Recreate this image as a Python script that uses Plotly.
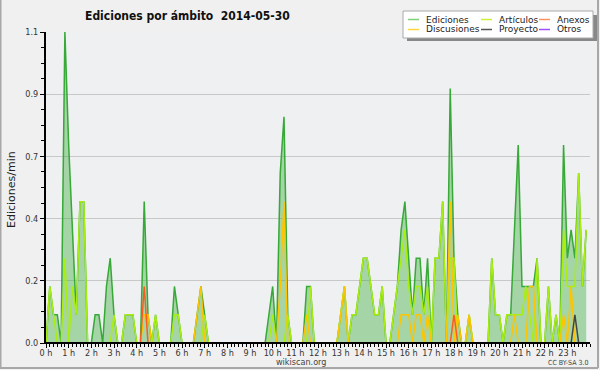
import plotly.graph_objects as go
import pandas as pd

DATE = "2014-05-30"
TITLE = "Ediciones por ámbito\u00a0 2014-05-30"
HOUR_LABELS = [f"{h} h" for h in range(24)]
Y_TICKS = [0, 0.22, 0.44, 0.66, 0.88, 1.1]
Y_TICK_LABELS = ["0.0", "0.2", "0.4", "0.7", "0.9", "1.1"]

# Ediciones/min per 10-minute bin (one row per hour)
EDICIONES = [
    0, 0.2, 0.1, 0.1, 0, 1.1,
    0.7, 0.4, 0.1, 0.5, 0.5, 0,
    0, 0.1, 0.1, 0, 0.2, 0.3,
    0.1, 0, 0, 0.1, 0.1, 0.1,
    0, 0, 0.5, 0.1, 0, 0.1,
    0, 0, 0, 0, 0.2, 0.1,
    0, 0, 0, 0, 0.1, 0.2,
    0.1, 0, 0, 0, 0, 0,
    0, 0, 0, 0, 0, 0,
    0, 0, 0, 0, 0, 0.1,
    0.2, 0, 0.6, 0.8, 0.1, 0,
    0, 0, 0, 0.2, 0.2, 0,
    0, 0, 0, 0, 0, 0,
    0.1, 0.2, 0, 0.1, 0.1, 0.2,
    0.3, 0.3, 0.2, 0.1, 0.1, 0.2,
    0, 0, 0.1, 0.2, 0.4, 0.5,
    0.3, 0.1, 0.3, 0.3, 0.1, 0.3,
    0, 0.3, 0.3, 0.5, 0, 0.9,
    0.3, 0.1, 0, 0, 0.1, 0,
    0, 0, 0, 0, 0.3, 0.1,
    0.1, 0, 0.1, 0.1, 0.4, 0.7,
    0.2, 0.2, 0.2, 0.2, 0.3, 0,
    0, 0.2, 0, 0.1, 0, 0.7,
    0.3, 0.4, 0.3, 0.6, 0.2, 0.4,
]
ARTICULOS = [
    0, 0.2, 0.1, 0, 0, 0.3,
    0, 0.2, 0.1, 0.5, 0.5, 0,
    0, 0, 0, 0, 0, 0,
    0.1, 0, 0, 0.1, 0.1, 0.1,
    0, 0, 0, 0, 0, 0.1,
    0, 0, 0, 0, 0.1, 0.1,
    0, 0, 0, 0, 0, 0,
    0.1, 0, 0, 0, 0, 0,
    0, 0, 0, 0, 0, 0,
    0, 0, 0, 0, 0, 0,
    0.1, 0, 0, 0, 0.1, 0,
    0, 0, 0, 0, 0.2, 0,
    0, 0, 0, 0, 0, 0,
    0.1, 0.2, 0, 0.1, 0.1, 0.2,
    0.3, 0.3, 0.2, 0.1, 0.1, 0.2,
    0, 0, 0.1, 0.2, 0.3, 0.4,
    0.2, 0.1, 0.2, 0.2, 0.1, 0.2,
    0, 0.3, 0.3, 0.5, 0, 0.3,
    0.3, 0, 0, 0, 0.1, 0,
    0, 0, 0, 0, 0.3, 0.1,
    0.1, 0, 0.1, 0.1, 0.1, 0.1,
    0.1, 0.2, 0.1, 0, 0.3, 0,
    0, 0.2, 0, 0.1, 0, 0.4,
    0.2, 0.2, 0.2, 0.6, 0.2, 0.4,
]
DISCUSIONES = [
    0, 0, 0, 0, 0, 0,
    0, 0, 0, 0, 0, 0,
    0, 0, 0, 0, 0, 0,
    0, 0, 0, 0, 0, 0,
    0, 0, 0.1, 0.1, 0, 0,
    0, 0, 0, 0, 0, 0,
    0, 0, 0, 0, 0.1, 0.2,
    0, 0, 0, 0, 0, 0,
    0, 0, 0, 0, 0, 0,
    0, 0, 0, 0, 0, 0,
    0, 0, 0.2, 0.5, 0, 0,
    0, 0, 0, 0.1, 0, 0,
    0, 0, 0, 0, 0, 0,
    0.1, 0.2, 0, 0, 0, 0,
    0, 0, 0, 0, 0, 0,
    0, 0, 0, 0, 0.1, 0.1,
    0.1, 0, 0.1, 0.1, 0, 0.1,
    0, 0, 0, 0, 0, 0.5,
    0, 0.1, 0, 0, 0.1, 0,
    0, 0, 0, 0, 0, 0,
    0, 0, 0, 0, 0.1, 0,
    0, 0, 0.2, 0.2, 0, 0,
    0, 0, 0, 0, 0, 0.1,
    0, 0.2, 0, 0, 0, 0,
]
ANEXOS = [
    0, 0, 0, 0, 0, 0,
    0, 0, 0, 0, 0, 0,
    0, 0, 0, 0, 0, 0,
    0, 0, 0, 0, 0, 0,
    0, 0, 0.2, 0, 0, 0,
    0, 0, 0, 0, 0, 0,
    0, 0, 0, 0, 0, 0,
    0, 0, 0, 0, 0, 0,
    0, 0, 0, 0, 0, 0,
    0, 0, 0, 0, 0, 0,
    0, 0, 0, 0, 0, 0,
    0, 0, 0, 0, 0, 0,
    0, 0, 0, 0, 0, 0,
    0, 0, 0, 0, 0, 0,
    0, 0, 0, 0, 0, 0,
    0, 0, 0, 0, 0, 0,
    0, 0, 0, 0, 0, 0,
    0, 0, 0, 0, 0, 0,
    0.1, 0, 0, 0, 0, 0,
    0, 0, 0, 0, 0, 0,
    0, 0, 0, 0, 0, 0,
    0, 0, 0, 0, 0, 0,
    0, 0, 0, 0, 0, 0,
    0, 0, 0, 0, 0, 0,
]
PROYECTO = [
    0, 0, 0, 0, 0, 0,
    0, 0, 0, 0, 0, 0,
    0, 0, 0, 0, 0, 0,
    0, 0, 0, 0, 0, 0,
    0, 0, 0, 0, 0, 0,
    0, 0, 0, 0, 0, 0,
    0, 0, 0, 0, 0, 0,
    0, 0, 0, 0, 0, 0,
    0, 0, 0, 0, 0, 0,
    0, 0, 0, 0, 0, 0,
    0, 0, 0, 0, 0, 0,
    0, 0, 0, 0, 0, 0,
    0, 0, 0, 0, 0, 0,
    0, 0, 0, 0, 0, 0,
    0, 0, 0, 0, 0, 0,
    0, 0, 0, 0, 0, 0,
    0, 0, 0, 0, 0, 0,
    0, 0, 0, 0, 0, 0,
    0, 0, 0, 0, 0, 0,
    0, 0, 0, 0, 0, 0,
    0, 0, 0, 0, 0, 0,
    0, 0, 0, 0, 0, 0,
    0, 0, 0, 0, 0, 0,
    0, 0, 0.1, 0, 0, 0,
]

SERIES = [
    ("Ediciones", EDICIONES, "#36a936"),
    ("Artículos", ARTICULOS, "#aaee11"),
    ("Discusiones", DISCUSIONES, "#ffc400"),
    ("Anexos", ANEXOS, "#ff5a22"),
    ("Proyecto", PROYECTO, "#444444"),
]
LEGEND = [
    ("Ediciones", "#7fcf7f"), ("Artículos", "#ccf033"), ("Anexos", "#ff9060"),
    ("Discusiones", "#ffd540"), ("Proyecto", "#555555"), ("Otros", "#a050ff"),
]

COND = "DejaVu Sans Condensed, DejaVu Sans"

times = pd.date_range(DATE, periods=len(EDICIONES), freq="10min")
hour_ticks = pd.date_range(DATE, periods=24, freq="h")

fig = go.Figure()
for name, vals, color in SERIES:
    kw = {}
    if name == "Ediciones":
        kw = dict(fill="tozeroy", fillcolor="rgba(54,169,54,0.40)")
    fig.add_trace(go.Scatter(x=times, y=vals, name=name, mode="lines",
                             line=dict(color=color, width=1.5), **kw))

L, R, T, B = 46, 590, 32, 343
W, H = R - L, B - T
def PX(px):
    return (px - L) / W
def PY(py):
    return (B - py) / H

fig.update_layout(
    width=600, height=370,
    margin=dict(l=L, r=600 - R, t=T, b=370 - B),
    paper_bgcolor="#f0f0f0", plot_bgcolor="#eef0f2",
    showlegend=False,
    font=dict(family=COND, size=9, color="#333333"),
    title=dict(text=TITLE, x=85 / 600, xanchor="left", xref="container",
               y=1 - 16 / 370, yanchor="middle", yref="container",
               font=dict(family=COND, size=12, color="#111111", weight="bold")),
)
fig.update_xaxes(
    range=[f"{DATE} 00:00", "2014-05-31 00:00"],
    tickmode="array", tickvals=hour_ticks, ticktext=HOUR_LABELS,
    ticks="outside", ticklen=4, tickcolor="black", tickwidth=1,
    ticklabelstandoff=-3,
    showline=True, linecolor="black", linewidth=1, showgrid=False, zeroline=False,
    tickfont=dict(family=COND, size=9, color="#333333"),
    minor=dict(ticks="outside", ticklen=3, tickcolor="black", dtick=600000,
               tick0=f"{DATE} 00:00", showgrid=False),
)
fig.update_yaxes(
    range=[0, 1.1], tickmode="array", tickvals=Y_TICKS, ticktext=Y_TICK_LABELS,
    ticks="outside", ticklen=4, tickcolor="black",
    showline=True, linecolor="black", linewidth=2,
    showgrid=True, gridcolor="#c8c8c8", gridwidth=1, zeroline=False,
    tickfont=dict(family=COND, size=9, color="#333333"),
    minor=dict(ticks="outside", ticklen=3, tickcolor="black", tickmode="linear",
               tick0=0, dtick=0.055, showgrid=False),
)

# baseline over zero-valued segments
fig.add_shape(type="line", xref="paper", x0=0, x1=1, yref="y", y0=0, y1=0,
              line=dict(color="black", width=2), layer="above")

# legend box with shadow
fig.add_shape(type="rect", xref="paper", yref="paper", x0=PX(407), x1=PX(597),
              y0=PY(41), y1=PY(15), fillcolor="#888888", line=dict(width=0))
fig.add_shape(type="rect", xref="paper", yref="paper", x0=PX(403), x1=PX(593),
              y0=PY(38), y1=PY(11), fillcolor="white",
              line=dict(color="#aaaaaa", width=1))
cols = [(408, 424), (481, 497), (539, 555)]
rows = [19.5, 29.5]
for k, (label, color) in enumerate(LEGEND):
    sx, tx = cols[k % 3]
    ry = rows[k // 3]
    fig.add_shape(type="line", xref="paper", yref="paper", x0=PX(sx), x1=PX(sx + 11),
                  y0=PY(ry), y1=PY(ry), line=dict(color=color, width=1.5))
    fig.add_annotation(text=label, xref="paper", yref="paper", x=PX(tx), y=PY(ry),
                       xanchor="left", yanchor="middle", showarrow=False,
                       font=dict(family="DejaVu Sans", size=9, color="#222222"))

# axis title and credits
fig.add_annotation(text="Ediciones/min", xref="paper", yref="paper", x=PX(11), y=PY(190),
                   textangle=-90, showarrow=False, xanchor="center", yanchor="middle",
                   font=dict(family="DejaVu Sans", size=11, color="#222222"))
fig.add_annotation(text="wikiscan.org", xref="paper", yref="paper", x=PX(301), y=PY(362),
                   showarrow=False, xanchor="center", yanchor="middle",
                   font=dict(family=COND, size=9, color="#444444"))
fig.add_annotation(text="CC BY-SA 3.0", xref="paper", yref="paper", x=PX(590), y=PY(362.5),
                   showarrow=False, xanchor="right", yanchor="middle",
                   font=dict(family=COND, size=7, color="#444444"))

# outer frame
for x0, y0, x1, y1 in [(0.5, 0, 0.5, 368), (0, 368, 598, 368), (598, 0, 598, 368)]:
    fig.add_shape(type="line", xref="paper", yref="paper", x0=PX(x0), x1=PX(x1),
                  y0=PY(y0), y1=PY(y1), line=dict(color="#a8a8a8", width=2))

fig.write_html("out.html", config={"displayModeBar": False},
               post_script="document.body.style.margin='0';")
